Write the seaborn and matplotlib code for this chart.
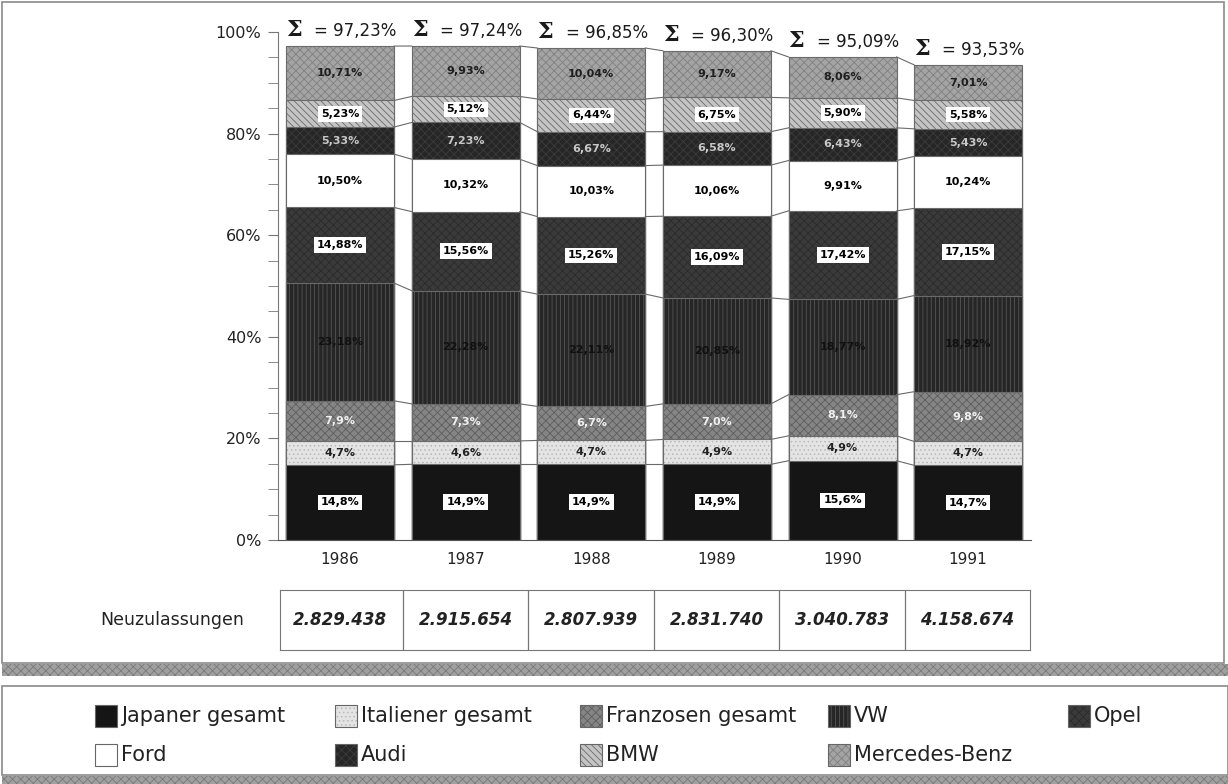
#Marktanteile Neuzulassungen 1986-1991, gestapelte Balken

#Import modules
import matplotlib.pyplot as plt
import numpy as np
import pandas as pd
import seaborn as sns
from matplotlib.patches import Rectangle

#Data
years = ['1986', '1987', '1988', '1989', '1990', '1991']
japaner = [14.8, 14.9, 14.9, 14.9, 15.6, 14.7]
italiener = [4.7, 4.6, 4.7, 4.9, 4.9, 4.7]
franzosen = [7.9, 7.3, 6.7, 7.0, 8.1, 9.8]
vw = [23.18, 22.28, 22.11, 20.85, 18.77, 18.92]
opel = [14.88, 15.56, 15.26, 16.09, 17.42, 17.15]
ford = [10.50, 10.32, 10.03, 10.06, 9.91, 10.24]
audi = [5.33, 7.23, 6.67, 6.58, 6.43, 5.43]
bmw = [5.23, 5.12, 6.44, 6.75, 5.90, 5.58]
mercedes = [10.71, 9.93, 10.04, 9.17, 8.06, 7.01]
summe = [97.23, 97.24, 96.85, 96.30, 95.09, 93.53]
neuzulassungen = ['2.829.438', '2.915.654', '2.807.939', '2.831.740', '3.040.783', '4.158.674']

names = ['Japaner gesamt', 'Italiener gesamt', 'Franzosen gesamt', 'VW', 'Opel',
         'Ford', 'Audi', 'BMW', 'Mercedes-Benz']
series = [japaner, italiener, franzosen, vw, opel, ford, audi, bmw, mercedes]
decimals = [1, 1, 1, 2, 2, 2, 2, 2, 2]

#Styles: face, hatch, hatch colour, label colour, label box
faces = ['#151515', '#e4e4e4', '#858585', '#262626', '#3a3a3a', '#ffffff', '#262626', '#c4c4c4', '#a4a4a4']
hatches = ['', '....', 'xxxx', '||||', 'xxxx', '', 'xxxx', '\\\\\\\\\\', 'xxxx']
hcolors = ['#151515', '#b8b8b8', '#5e5e5e', '#555555', '#2a2a2a', '#777777', '#3c3c3c', '#6a6a6a', '#808080']
tcolors = ['black', '#222222', '#f0f0f0', '#101010', 'black', 'black', '#c8c8c8', 'black', '#1e1e1e']
boxed = [True, False, False, False, True, False, False, True, False]

df = pd.DataFrame(dict(zip(names, series)), index = years)
cum = df.cumsum(axis = 1)

plt.rcParams['font.family'] = ['DejaVu Sans']
plt.rcParams['hatch.linewidth'] = 0.6

W, H = 1228, 784
fig = plt.figure(figsize = (12.28, 7.84), dpi = 100)

#Frames around chart and legend
def fbox(x0, y0, x1, y1, **kw):
    fig.add_artist(Rectangle((x0 / W, 1 - y1 / H), (x1 - x0) / W, (y1 - y0) / H,
                             transform = fig.transFigure, **kw))

fbox(2, 2, 1224, 663, fill = False, ec = '#8a8a8a', lw = 1.2)
fbox(2, 664, 1228, 676, fc = '#a0a0a0', ec = '#7a7a7a', hatch = 'xxxx', lw = 0)
fbox(2, 686, 1228, 775, fill = False, ec = '#8a8a8a', lw = 1.2)
fbox(2, 776, 1228, 784, fc = '#a0a0a0', ec = '#7a7a7a', hatch = 'xxxx', lw = 0)

#Main axes
ax = fig.add_axes([278 / W, 1 - 540 / H, (1031 - 278) / W, (540 - 32) / H])
bw = 0.86
for k in range(len(names) - 1, -1, -1):
    sns.barplot(x = years, y = cum[names[k]].values, order = years, color = faces[k],
                saturation = 1, width = bw, hatch = hatches[k], edgecolor = hcolors[k],
                linewidth = 0, ax = ax)
    #outline
    sns.barplot(x = years, y = cum[names[k]].values, order = years, fill = False,
                width = bw, edgecolor = '#6a6a6a', linewidth = 0.8, ax = ax)

#Connecting lines between bars
for k in range(len(names)):
    top = cum[names[k]].values
    for i in range(len(years) - 1):
        ax.plot([i + bw / 2, i + 1 - bw / 2], [top[i], top[i + 1]], color = '#6a6a6a', lw = 0.8)

#Segment labels
for k in range(len(names)):
    top = cum[names[k]].values
    vals = df[names[k]].values
    for i in range(len(years)):
        s = f"{vals[i]:.{decimals[k]}f}".replace('.', ',') + '%'
        kw = {}
        if boxed[k]:
            kw['bbox'] = dict(boxstyle = 'square,pad=0.25', fc = 'white', ec = 'none')
        ax.text(i, top[i] - vals[i] / 2, s, ha = 'center', va = 'center', fontsize = 8,
                fontweight = 'bold', color = tcolors[k], **kw)

#Sum labels
for i in range(len(years)):
    ax.text(i - 0.43, summe[i] + 2.0, 'Σ', ha = 'left', va = 'baseline', fontsize = 16,
            family = 'DejaVu Serif', fontweight = 'bold', color = '#1a1a1a', clip_on = False)
    s = "= " + f"{summe[i]:.2f}".replace('.', ',') + '%'
    ax.text(i + 0.45, summe[i] + 2.0, s, ha = 'right', va = 'baseline', fontsize = 12,
            color = '#1a1a1a', clip_on = False)

ax.set_xlim(-0.494, 5.5)
ax.set_ylim(0, 100)
ax.set_yticks(np.arange(0, 101, 20))
ax.set_yticks(np.arange(0, 101, 5), minor = True)
ax.set_yticklabels([f"{t}%" for t in range(0, 101, 20)], fontsize = 11.5)
ax.tick_params(axis = 'y', which = 'both', length = 7, color = '#777777', pad = 5, labelcolor = '#222222')
ax.tick_params(axis = 'x', length = 0, labelsize = 11, pad = 9, labelcolor = '#222222')
for s in ['top', 'right']:
    ax.spines[s].set_visible(False)
ax.spines['left'].set_color('#777777')
ax.spines['bottom'].set_color('#555555')
ax.set_xlabel('')
ax.set_ylabel('')

#Neuzulassungen table
tab = fig.add_axes([280 / W, 1 - 650 / H, (1030 - 280) / W, 60 / H])
tab.set_xlim(-0.48, 5.5)
tab.set_ylim(0, 1)
tab.set_xticks([])
tab.set_yticks([])
for s in tab.spines.values():
    s.set_color('#777777')
for i in range(len(years) - 1):
    tab.axvline(i + 0.5, color = '#777777', lw = 0.9)
for i in range(len(years)):
    tab.text(i, 0.5, neuzulassungen[i], ha = 'center', va = 'center', fontsize = 12,
             fontweight = 'bold', fontstyle = 'italic', color = '#222222')
fig.text(172 / W, 1 - 620 / H, 'Neuzulassungen', ha = 'center', va = 'center', fontsize = 12.5, color = '#222222')

#Legend
col_x = [95, 335, 580, 828, 1068]
row_y = [716, 755]
for k in range(len(names)):
    r, c = divmod(k, 5)
    x0, yc = col_x[c], row_y[r]
    fbox(x0, yc - 11, x0 + 22, yc + 11, fc = faces[k], hatch = hatches[k], ec = hcolors[k], lw = 0)
    fbox(x0, yc - 11, x0 + 22, yc + 11, fill = False, ec = '#666666', lw = 0.8)
    fig.text((x0 + 26) / W, 1 - yc / H, names[k], ha = 'left', va = 'center', fontsize = 15, color = '#222222')

fig.savefig('out.png', dpi = 100)
